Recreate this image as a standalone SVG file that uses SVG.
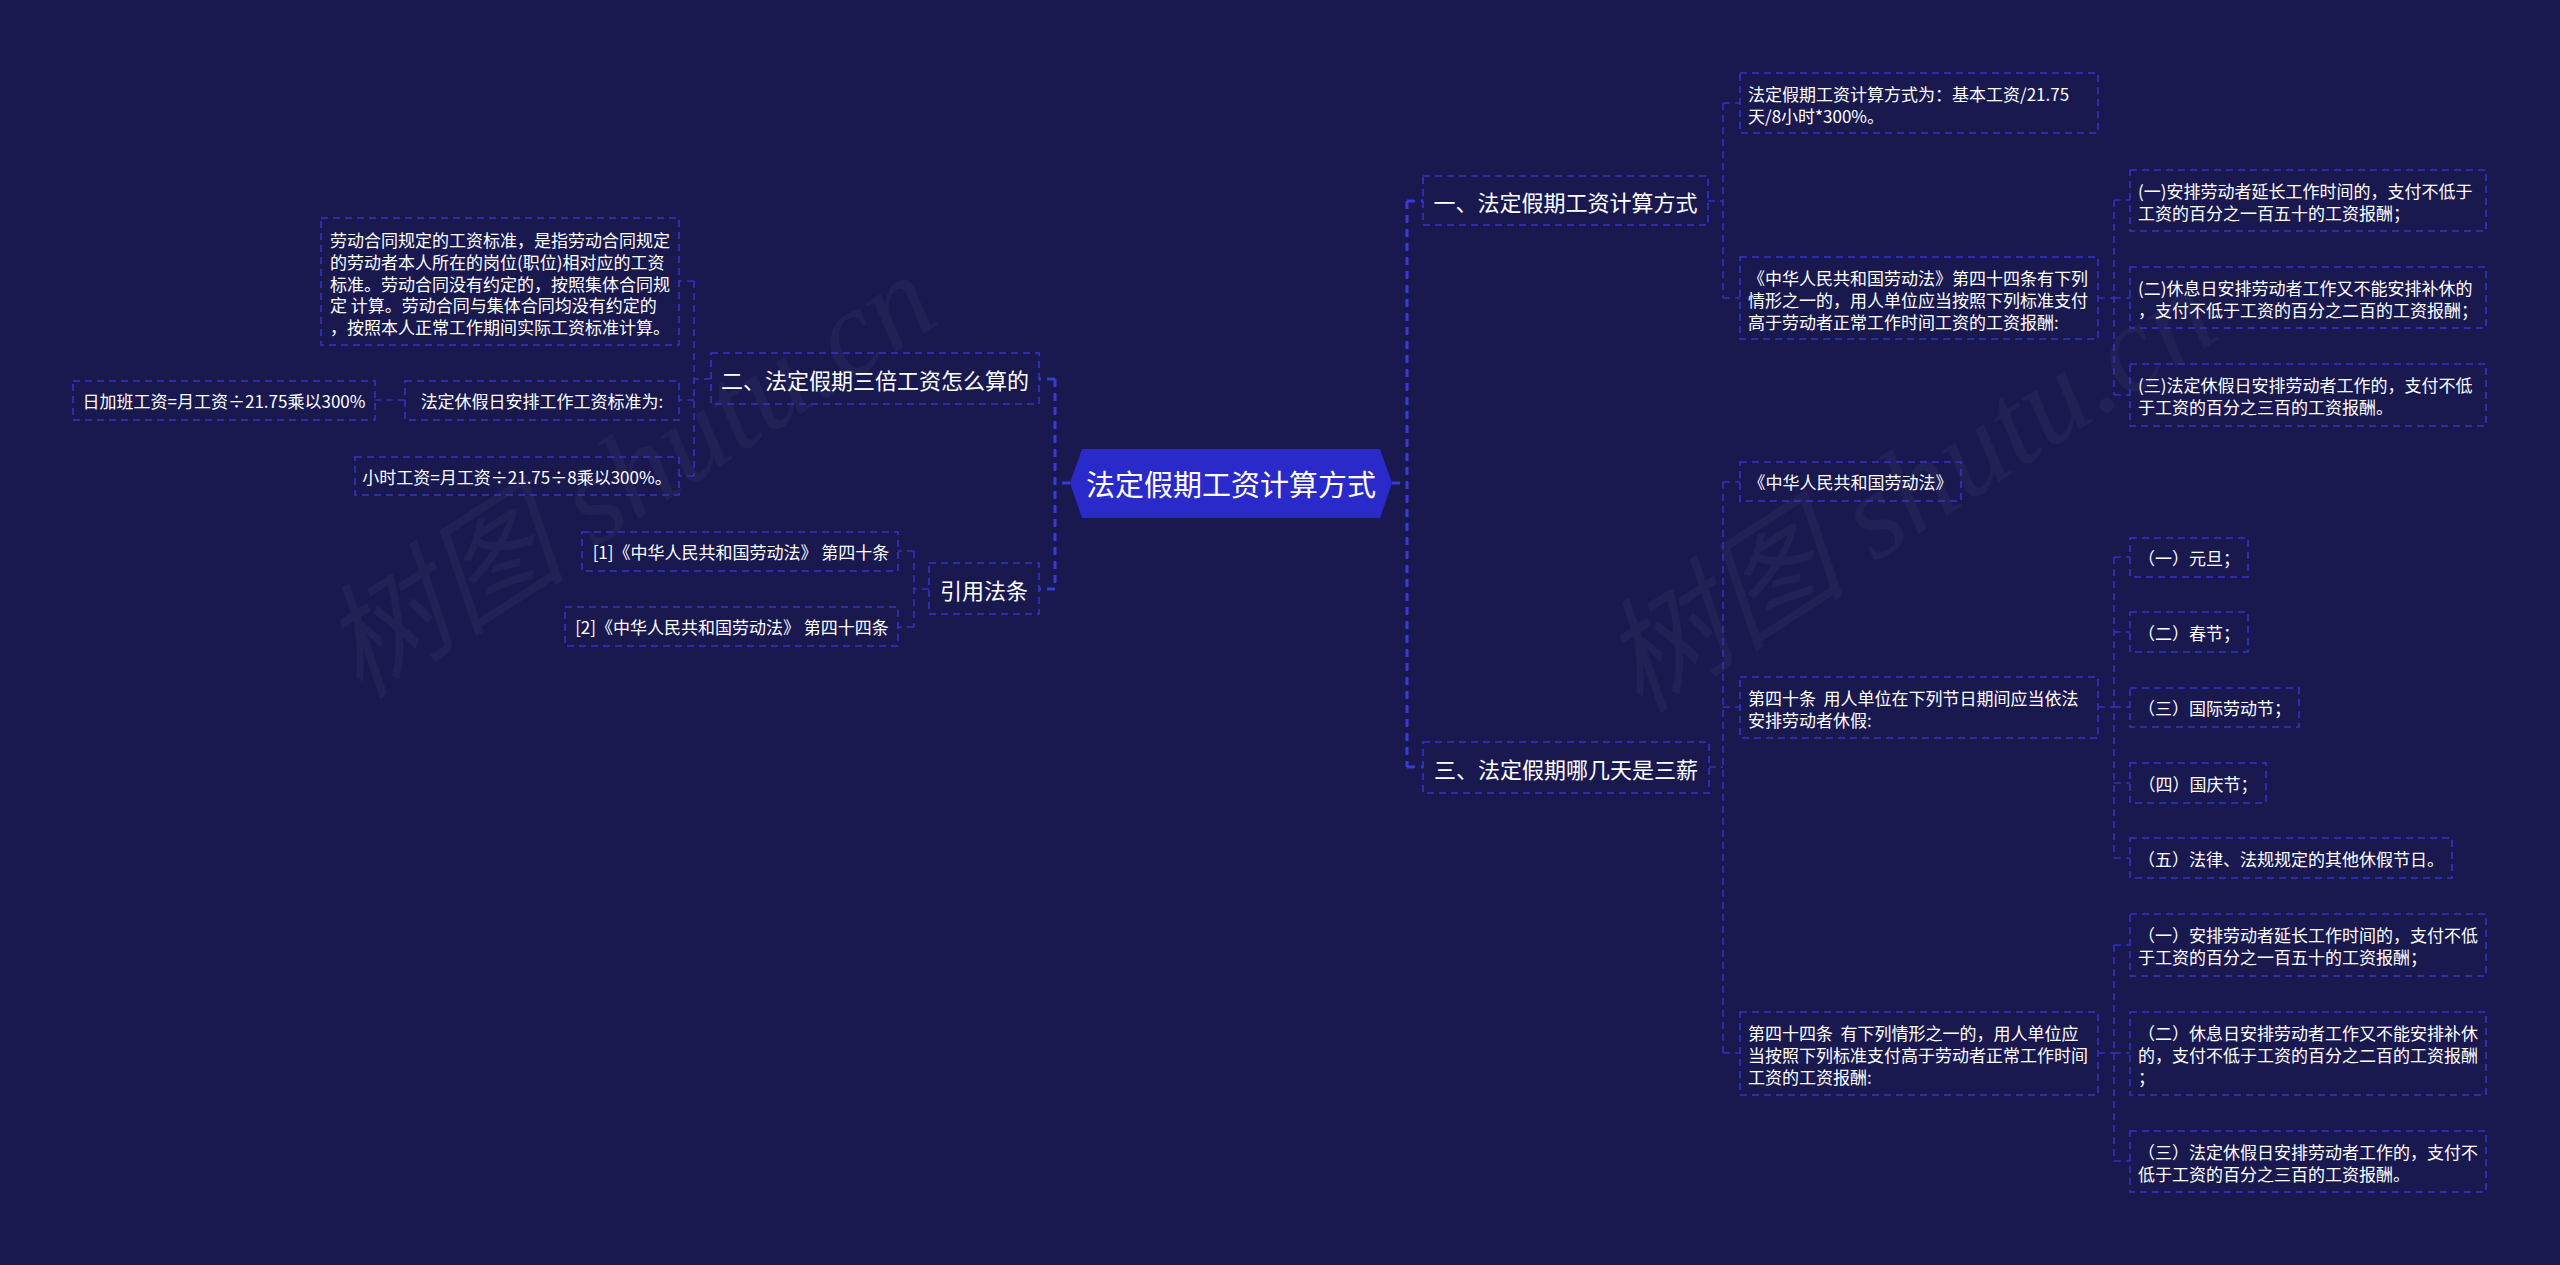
<svg xmlns="http://www.w3.org/2000/svg" width="2560" height="1265" viewBox="0 0 2560 1265">
<defs>
<style>
.bg{fill:#19194f}
.wm{font-family:"Liberation Serif","Noto Sans CJK SC",serif;font-style:italic;font-size:124px;fill:#ffffff;fill-opacity:0.035}
.box{fill:none;stroke:#3434c8;stroke-width:1.6;stroke-dasharray:7 5}
.hex{fill:#2a2acb}
.t{font-family:"Noto Sans CJK SC","Noto Sans",sans-serif;fill:#ffffff;dominant-baseline:central}
.t0{font-size:29px;text-anchor:middle}
.t1{font-size:22px;text-anchor:middle}
.t2{font-size:17px}
.tm{text-anchor:middle}
.c{fill:none;stroke:#3232bd;stroke-width:1.6;stroke-dasharray:7 5}
.cm{fill:none;stroke:#3a3ad8;stroke-width:3;stroke-dasharray:8 6}
</style>
</defs>
<rect class="bg" x="0" y="0" width="2560" height="1265"/>
<g id="watermark">
<text class="wm" x="360" y="700" transform="rotate(-33 360 700)">树图 shutu.cn</text>
<text class="wm" x="1640" y="715" transform="rotate(-33 1640 715)">树图 shutu.cn</text>
</g>
<g id="connectors">
<path class="cm" d="M1392 483H1407M1407 201V767M1407 201H1423M1407 767H1423"/>
<path class="cm" d="M1070 483H1055M1055 379V589M1055 379H1039M1055 589H1039"/>
<path class="c" d="M1708 201H1723M1723 103V298M1723 103H1740M1723 298H1740"/>
<path class="c" d="M2098 298H2114M2114 200V395M2114 200H2130M2114 298H2130M2114 395H2130"/>
<path class="c" d="M1709 767H1723M1723 482V1053M1723 482H1740M1723 707H1740M1723 1053H1740"/>
<path class="c" d="M2098 707H2114M2114 557V858M2114 557H2130M2114 632H2130M2114 707H2130M2114 783H2130M2114 858H2130"/>
<path class="c" d="M2098 1053H2114M2114 945V1161M2114 945H2130M2114 1053H2130M2114 1161H2130"/>
<path class="c" d="M711 379H694M694 281V476M694 281H679M694 400H679M694 476H679"/>
<path class="c" d="M405 400H375"/>
<path class="c" d="M929 589H914M914 551V627M914 551H898M914 627H898"/>
</g>
<g id="root">
<polygon class="hex" points="1070,483 1082,449 1380,449 1392,483 1380,518 1082,518"/>
<text class="t t0" x="1231" y="483">法定假期工资计算方式</text>
</g>
<g id="n1">
<rect class="box" x="1423" y="176" width="285" height="49"/>
<text class="t t1" x="1565.5" y="200.5">一、法定假期工资计算方式</text>
</g>
<g id="n2">
<rect class="box" x="711" y="353" width="328" height="51"/>
<text class="t t1" x="875" y="378.5">二、法定假期三倍工资怎么算的</text>
</g>
<g id="n3">
<rect class="box" x="1423" y="742" width="286" height="51"/>
<text class="t t1" x="1566" y="767.5">三、法定假期哪几天是三薪</text>
</g>
<g id="n4">
<rect class="box" x="929" y="563" width="110" height="51"/>
<text class="t t1" x="984" y="588.5">引用法条</text>
</g>
<g id="l1">
<rect class="box" x="321" y="218" width="358" height="127"/>
<text class="t t2" x="330"><tspan x="330" y="239">劳动合同规定的工资标准，是指劳动合同规定</tspan><tspan x="330" y="261">的劳动者本人所在的岗位(职位)相对应的工资</tspan><tspan x="330" y="283">标准。劳动合同没有约定的，按照集体合同规</tspan><tspan x="330" y="304">定&#160;计算。劳动合同与集体合同均没有约定的</tspan><tspan x="330" y="326">，按照本人正常工作期间实际工资标准计算。</tspan></text>
</g>
<g id="l2">
<rect class="box" x="405" y="381" width="274" height="39"/>
<text class="t t2 tm" x="542" y="400.5">法定休假日安排工作工资标准为:</text>
</g>
<g id="l3">
<rect class="box" x="73" y="381" width="302" height="39"/>
<text class="t t2 tm" x="224" y="400.5">日加班工资=月工资÷21.75乘以300%</text>
</g>
<g id="l4">
<rect class="box" x="355" y="457" width="324" height="38"/>
<text class="t t2 tm" x="517" y="476">小时工资=月工资÷21.75÷8乘以300%。</text>
</g>
<g id="l5">
<rect class="box" x="582" y="532" width="316" height="39"/>
<text class="t t2 tm" x="741" y="551.5">[1]《中华人民共和国劳动法》&#160;第四十条</text>
</g>
<g id="l6">
<rect class="box" x="565" y="607" width="333" height="39"/>
<text class="t t2 tm" x="732" y="626.5">[2]《中华人民共和国劳动法》&#160;第四十四条</text>
</g>
<g id="r1">
<rect class="box" x="1740" y="73" width="358" height="60"/>
<text class="t t2"><tspan x="1748" y="93">法定假期工资计算方式为：基本工资/21.75</tspan><tspan x="1748" y="115">天/8小时*300%。</tspan></text>
</g>
<g id="r2">
<rect class="box" x="1740" y="257" width="358" height="82"/>
<text class="t t2"><tspan x="1748" y="277">《中华人民共和国劳动法》第四十四条有下列</tspan><tspan x="1748" y="299">情形之一的，用人单位应当按照下列标准支付</tspan><tspan x="1748" y="321">高于劳动者正常工作时间工资的工资报酬:</tspan></text>
</g>
<g id="r2a">
<rect class="box" x="2130" y="170" width="356" height="61"/>
<text class="t t2"><tspan x="2138" y="190">(一)安排劳动者延长工作时间的，支付不低于</tspan><tspan x="2138" y="212">工资的百分之一百五十的工资报酬；</tspan></text>
</g>
<g id="r2b">
<rect class="box" x="2130" y="267" width="356" height="61"/>
<text class="t t2"><tspan x="2138" y="287">(二)休息日安排劳动者工作又不能安排补休的</tspan><tspan x="2138" y="309">，支付不低于工资的百分之二百的工资报酬；</tspan></text>
</g>
<g id="r2c">
<rect class="box" x="2130" y="364" width="356" height="62"/>
<text class="t t2"><tspan x="2138" y="384">(三)法定休假日安排劳动者工作的，支付不低</tspan><tspan x="2138" y="406">于工资的百分之三百的工资报酬。</tspan></text>
</g>
<g id="r3">
<rect class="box" x="1740" y="462" width="221" height="39"/>
<text class="t t2 tm" x="1850.5" y="481.5">《中华人民共和国劳动法》</text>
</g>
<g id="r4">
<rect class="box" x="1740" y="677" width="358" height="61"/>
<text class="t t2"><tspan x="1748" y="697">第四十条&#160;&#160;用人单位在下列节日期间应当依法</tspan><tspan x="1748" y="719">安排劳动者休假:</tspan></text>
</g>
<g id="h1">
<rect class="box" x="2130" y="538" width="118" height="39"/>
<text class="t t2 tm" x="2189" y="557.5">（一）元旦；</text>
</g>
<g id="h2">
<rect class="box" x="2130" y="612" width="118" height="40"/>
<text class="t t2 tm" x="2189" y="632">（二）春节；</text>
</g>
<g id="h3">
<rect class="box" x="2130" y="688" width="169" height="39"/>
<text class="t t2 tm" x="2214.5" y="707.5">（三）国际劳动节；</text>
</g>
<g id="h4">
<rect class="box" x="2130" y="763" width="136" height="40"/>
<text class="t t2 tm" x="2198" y="783">（四）国庆节；</text>
</g>
<g id="h5">
<rect class="box" x="2130" y="838" width="322" height="40"/>
<text class="t t2 tm" x="2291" y="858">（五）法律、法规规定的其他休假节日。</text>
</g>
<g id="r5">
<rect class="box" x="1740" y="1012" width="358" height="83"/>
<text class="t t2"><tspan x="1748" y="1032">第四十四条&#160;&#160;有下列情形之一的，用人单位应</tspan><tspan x="1748" y="1054">当按照下列标准支付高于劳动者正常工作时间</tspan><tspan x="1748" y="1076">工资的工资报酬:</tspan></text>
</g>
<g id="a1">
<rect class="box" x="2130" y="914" width="356" height="62"/>
<text class="t t2"><tspan x="2138" y="934">（一）安排劳动者延长工作时间的，支付不低</tspan><tspan x="2138" y="956">于工资的百分之一百五十的工资报酬；</tspan></text>
</g>
<g id="a2">
<rect class="box" x="2130" y="1012" width="356" height="83"/>
<text class="t t2"><tspan x="2138" y="1032">（二）休息日安排劳动者工作又不能安排补休</tspan><tspan x="2138" y="1054">的，支付不低于工资的百分之二百的工资报酬</tspan><tspan x="2138" y="1076">；</tspan></text>
</g>
<g id="a3">
<rect class="box" x="2130" y="1131" width="356" height="61"/>
<text class="t t2"><tspan x="2138" y="1151">（三）法定休假日安排劳动者工作的，支付不</tspan><tspan x="2138" y="1173">低于工资的百分之三百的工资报酬。</tspan></text>
</g>
</svg>
